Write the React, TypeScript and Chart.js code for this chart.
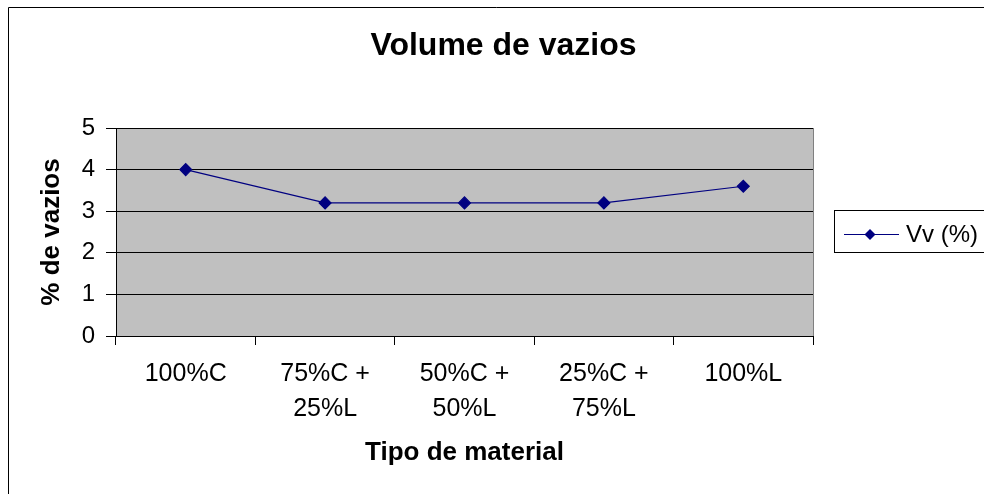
import React, { useEffect, useRef } from "react";
import { Chart, registerables } from "chart.js";

Chart.register(...registerables);

const categories: string[][] = [["100%C"], ["75%C +", "25%L"], ["50%C +", "50%L"], ["25%C +", "75%L"], ["100%L"]];
const seriesValues: number[] = [4.0, 3.2, 3.2, 3.2, 3.6];
const yTicks: number[] = [0, 1, 2, 3, 4, 5];
const seriesName = "Vv (%)";
const chartTitle = "Volume de vazios";
const xTitle = "Tipo de material";
const yTitle = "% de vazios";

const FONT = "'Liberation Sans', Arial, sans-serif";
const NAVY = "#000080";

const decorPlugin = {
  id: "decor",
  beforeDraw(chart: any) {
    const { ctx, chartArea } = chart;
    ctx.save();
    ctx.fillStyle = "#ffffff";
    ctx.fillRect(0, 0, chart.width, chart.height);
    ctx.fillStyle = "#C0C0C0";
    ctx.fillRect(chartArea.left, chartArea.top, chartArea.right - chartArea.left, chartArea.bottom - chartArea.top);
    ctx.strokeStyle = "#808080";
    ctx.lineWidth = 1;
    ctx.strokeRect(chartArea.left + 0.5, chartArea.top + 0.5, chartArea.right - chartArea.left, chartArea.bottom - chartArea.top);
    ctx.restore();
  },
  afterDraw(chart: any) {
    const { ctx, chartArea } = chart;
    ctx.save();
    // outer frame
    ctx.strokeStyle = "#000000";
    ctx.lineWidth = 1;
    ctx.beginPath();
    ctx.moveTo(8.5, chart.height + 5);
    ctx.lineTo(8.5, 7.5);
    ctx.lineTo(chart.width + 5, 7.5);
    ctx.stroke();

    // title
    ctx.fillStyle = "#000000";
    ctx.textAlign = "center";
    ctx.textBaseline = "middle";
    ctx.font = `bold 32px ${FONT}`;
    ctx.fillText(chartTitle, (chartArea.left + chartArea.right) / 2 + 39, 46);

    // x title
    ctx.font = `bold 26px ${FONT}`;
    ctx.fillText(xTitle, (chartArea.left + chartArea.right) / 2, 453);

    // y title
    ctx.save();
    ctx.translate(52, (chartArea.top + chartArea.bottom) / 2);
    ctx.rotate(-Math.PI / 2);
    ctx.fillText(yTitle, 0, 0);
    ctx.restore();

    // legend
    ctx.strokeStyle = "#000000";
    ctx.strokeRect(834.5, 210.5, 170, 42);
    ctx.strokeStyle = NAVY;
    ctx.lineWidth = 1.2;
    ctx.beginPath();
    ctx.moveTo(844, 234.5);
    ctx.lineTo(899, 234.5);
    ctx.stroke();
    ctx.fillStyle = NAVY;
    ctx.beginPath();
    ctx.moveTo(870, 229);
    ctx.lineTo(875.5, 234.5);
    ctx.lineTo(870, 240);
    ctx.lineTo(864.5, 234.5);
    ctx.closePath();
    ctx.fill();
    ctx.fillStyle = "#000000";
    ctx.textAlign = "left";
    ctx.font = `24px ${FONT}`;
    ctx.fillText(seriesName, 906, 235);
    ctx.restore();
  },
};

export default function App() {
  const ref = useRef<HTMLCanvasElement | null>(null);
  useEffect(() => {
    if (!ref.current) return;
    const chart = new Chart(ref.current, {
      type: "line",
      data: {
        labels: categories,
        datasets: [
          {
            label: seriesName,
            data: seriesValues,
            borderColor: NAVY,
            backgroundColor: NAVY,
            borderWidth: 1.1,
            pointStyle: "rectRot",
            pointRadius: 6,
            pointHoverRadius: 6,
            pointBackgroundColor: NAVY,
            pointBorderColor: NAVY,
            tension: 0,
          },
        ],
      },
      options: {
        animation: false,
        responsive: false,
        maintainAspectRatio: false,
        events: [],
        layout: { padding: { top: 128, right: 171, left: 0, bottom: 0 } },
        plugins: {
          legend: { display: false },
          title: { display: false },
          tooltip: { enabled: false },
        },
        scales: {
          x: {
            type: "category",
            offset: true,
            afterFit: (s: any) => {
              s.height = 158;
            },
            grid: {
              display: true,
              offset: true,
              drawOnChartArea: false,
              drawTicks: true,
              tickLength: 9,
              color: "#000000",
            },
            border: { display: true, color: "#000000", width: 1 },
            ticks: {
              color: "#000000",
              font: { family: FONT, size: 25, lineHeight: 1.4 },
              padding: 12,
              maxRotation: 0,
              autoSkip: false,
            },
          },
          y: {
            min: 0,
            max: 5,
            afterFit: (s: any) => {
              s.width = 116;
            },
            afterBuildTicks: (s: any) => {
              s.ticks = yTicks.map((v) => ({ value: v }));
            },
            grid: {
              color: "#000000",
              drawTicks: true,
              tickLength: 10,
            },
            border: { display: true, color: "#000000", width: 1 },
            ticks: {
              color: "#000000",
              font: { family: FONT, size: 24 },
              padding: 11,
              stepSize: 1,
            },
          },
        },
      },
      plugins: [decorPlugin],
    });
    return () => chart.destroy();
  }, []);
  return (
    <div style={{ position: "absolute", left: 0, top: 0, width: 984, height: 494 }}>
      <canvas ref={ref} width={984} height={494} style={{ width: 984, height: 494, display: "block" }} />
    </div>
  );
}
